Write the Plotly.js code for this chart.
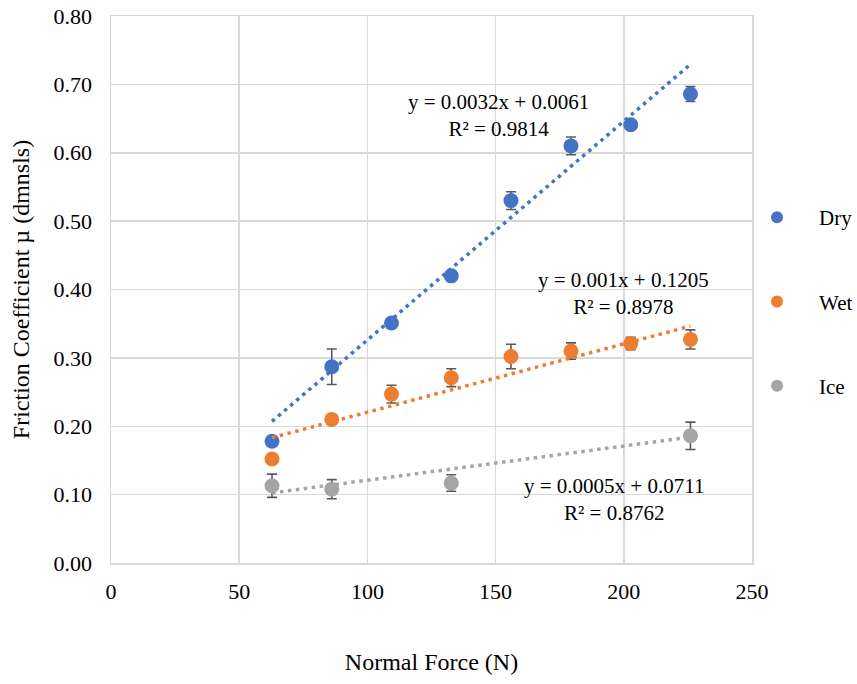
<!DOCTYPE html>
<html>
<head>
<meta charset="utf-8">
<script src="https://cdn.plot.ly/plotly-3.0.1.min.js"></script>
<style>html,body{margin:0;padding:0;background:#fff;}#chart{width:857px;height:684px;}</style>
</head>
<body>
<div id="chart"></div>
<script>
// ---- data ----
const seriesNames = ["Dry", "Wet", "Ice"];
const xDry = [62.8, 86.1, 109.4, 132.7, 156.0, 179.4, 202.7, 226.0];
const yDry = [0.178, 0.287, 0.351, 0.420, 0.530, 0.610, 0.641, 0.686];
const eDry = [0.004, 0.026, 0.006, 0.006, 0.013, 0.013, 0.005, 0.011];
const xWet = [62.8, 86.1, 109.4, 132.7, 156.0, 179.4, 202.7, 226.0];
const yWet = [0.152, 0.210, 0.247, 0.271, 0.302, 0.310, 0.321, 0.327];
const eWet = [0.004, 0.005, 0.013, 0.013, 0.018, 0.012, 0.009, 0.014];
const xIce = [62.8, 86.1, 132.7, 226.0];
const yIce = [0.113, 0.108, 0.117, 0.186];
const eIce = [0.017, 0.014, 0.012, 0.020];
// trendline coefficients as printed on the chart
const slopes = [0.0032, 0.001, 0.0005];
const intercepts = [0.0061, 0.1205, 0.0711];
const eqLabels = ["y = 0.0032x + 0.0061", "y = 0.001x + 0.1205", "y = 0.0005x + 0.0711"];
const r2Labels = ["R² = 0.9814", "R² = 0.8978", "R² = 0.8762"];

const colors = ["#4472C4", "#ED7D31", "#A5A5A5"];
const FONT = '"Liberation Serif", "Times New Roman", serif';

const xs = [xDry, xWet, xIce], ys = [yDry, yWet, yIce], es = [eDry, eWet, eIce];
const traces = [];
for (let i = 0; i < 3; i++) {
  traces.push({
    type: "scatter", mode: "markers", name: seriesNames[i],
    x: xs[i], y: ys[i], legendgroup: seriesNames[i],
    marker: {color: colors[i], size: 15},
    error_y: {type: "data", array: es[i], visible: true, color: "#595959", thickness: 1.6, width: 5},
    cliponaxis: false
  });
}
for (let i = 0; i < 3; i++) {
  const x0 = Math.min(...xs[i]), x1 = Math.max(...xs[i]);
  traces.push({
    type: "scatter", mode: "lines", showlegend: false, hoverinfo: "skip",
    x: [x0, x1], y: [slopes[i] * x0 + intercepts[i], slopes[i] * x1 + intercepts[i]],
    line: {color: colors[i], width: 3.5, dash: "3.5px,4.5px"}
  });
}

const annPos = [[151, 0.655], [200, 0.394], [196, 0.093]];
const annotations = annPos.map((p, i) => ({
  x: p[0], y: p[1], xref: "x", yref: "y", showarrow: false,
  text: eqLabels[i] + "<br>" + r2Labels[i], align: "center",
  font: {family: FONT, size: 21, color: "#000"}
}));

const layout = {
  width: 857, height: 684,
  margin: {l: 111, r: 105, t: 16, b: 121, autoexpand: false},
  paper_bgcolor: "#fff", plot_bgcolor: "#fff",
  font: {family: FONT, size: 21, color: "#000"},
  showlegend: true,
  legend: {x: 0.9735, xanchor: "left", y: 0.478, yanchor: "middle", bgcolor: "rgba(0,0,0,0)",
           tracegroupgap: 54, font: {family: FONT, size: 21, color: "#000"},
           itemsizing: "constant", itemwidth: 74},
  xaxis: {range: [0, 250], dtick: 50, tick0: 0, showgrid: true, gridcolor: "#D9D9D9", gridwidth: 1.5,
          zeroline: false, showline: true, linecolor: "#D9D9D9", linewidth: 1.5, mirror: true,
          ticks: "", ticklabelstandoff: 8, tickfont: {family: FONT, size: 22, color: "#000"},
          title: {text: "Normal Force (N)", standoff: 50, font: {family: FONT, size: 24, color: "#000"}}},
  yaxis: {range: [0, 0.8], dtick: 0.1, tick0: 0, tickformat: ".2f", showgrid: true, gridcolor: "#D9D9D9", gridwidth: 1.5,
          zeroline: false, showline: true, linecolor: "#D9D9D9", linewidth: 1.5, mirror: true,
          ticks: "", ticklabelstandoff: 13, tickfont: {family: FONT, size: 22, color: "#000"},
          title: {text: "Friction Coefficient µ (dmnsls)", standoff: 17, font: {family: FONT, size: 24, color: "#000"}}},
  annotations: annotations
};

Plotly.newPlot("chart", traces, layout, {displayModeBar: false, staticPlot: true});
</script>
</body>
</html>
